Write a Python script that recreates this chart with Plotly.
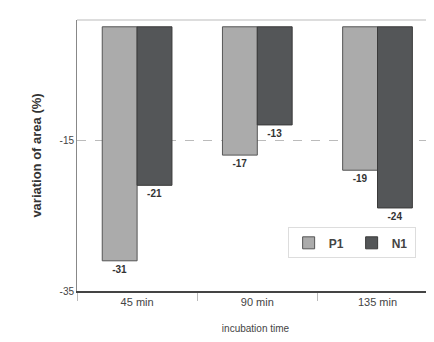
import plotly.graph_objects as go

categories = ["45 min", "90 min", "135 min"]
p1_values = [-31, -17, -19]
n1_values = [-21, -13, -24]
y_ticks = [-35, -15]

label_font = dict(family="Liberation Sans", size=10, color="#333333")

fig = go.Figure()
fig.add_trace(go.Bar(
    x=categories, y=p1_values, name="P1",
    marker=dict(color="#ababab", line=dict(color="#555555", width=1)),
    text=[str(v) for v in p1_values], texttemplate="<b>%{text}</b>",
    textposition="outside", textfont=label_font, cliponaxis=False,
))
fig.add_trace(go.Bar(
    x=categories, y=n1_values, name="N1",
    marker=dict(color="#545658", line=dict(color="#3a3a3a", width=1)),
    text=[str(v) for v in n1_values], texttemplate="<b>%{text}</b>",
    textposition="outside", textfont=label_font, cliponaxis=False,
))

# page body has an 8px margin, so the figure is drawn 8px right/down
fig.update_layout(
    width=426, height=334,
    margin=dict(l=69, r=0, t=12, b=51, autoexpand=False),
    paper_bgcolor="white", plot_bgcolor="white",
    barmode="group", bargap=0.42, bargroupgap=0,
    font=dict(family="Liberation Sans", color="#333333"),
    showlegend=True,
    legend=dict(
        orientation="h", x=0.59, y=0.235, xanchor="left", yanchor="top",
        font=dict(family="Liberation Sans", size=12, color="#444444", weight="bold"),
        bgcolor="rgba(255,255,255,0.9)", bordercolor="#dddddd", borderwidth=1,
        itemwidth=30, entrywidth=18, traceorder="normal",
    ),
    xaxis=dict(
        range=[-0.5, 2.47], showline=True, linecolor="#444444", linewidth=1.5,
        ticks="outside", tickson="boundaries", ticklen=8, tickcolor="#bbbbbb",
        tickfont=dict(size=11, color="#444444"), automargin=False,
        title=dict(text="incubation time", font=dict(size=10, color="#444444"), standoff=18),
    ),
    yaxis=dict(
        range=[-35, 0.9], tickvals=y_ticks, ticktext=[str(v) for v in y_ticks],
        showline=True, linecolor="#888888", linewidth=1,
        showgrid=True, gridcolor="#bbbbbb", griddash="dash", gridwidth=1,
        zeroline=False, ticks="", tickfont=dict(size=10, color="#444444"),
        automargin=False,
        title=dict(text="<b>variation of area (%)</b>", font=dict(size=13, color="#333333"), standoff=14),
    ),
)
fig.add_shape(type="line", xref="paper", yref="paper", x0=0, x1=1, y0=1, y1=1,
              line=dict(color="#bbbbbb", width=1))

fig.write_html("out.html")
